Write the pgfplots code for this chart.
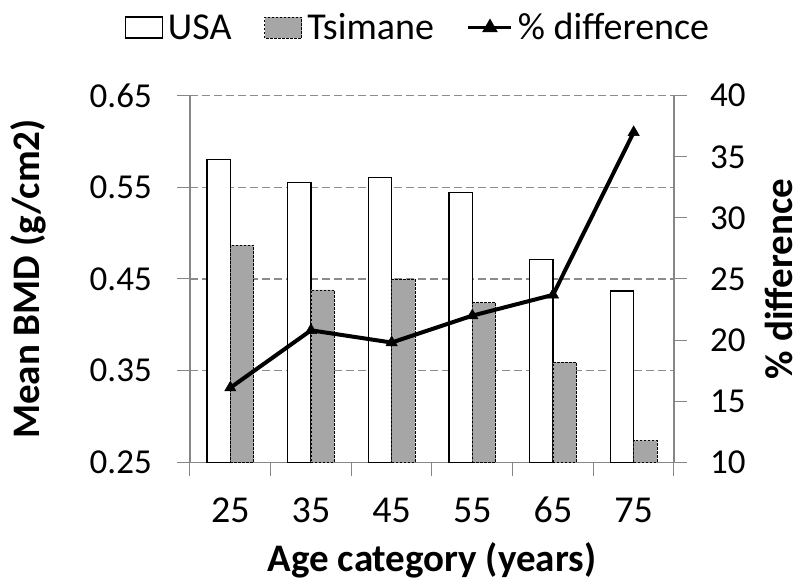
\documentclass[border=0pt]{standalone}
\usepackage{fontspec}
\setmainfont{Carlito}
\usepackage{pgfplots}
\pgfplotsset{compat=1.18}

\definecolor{barGray}{HTML}{A6A6A6}
\definecolor{axGray}{HTML}{868686}
\definecolor{gridGray}{HTML}{8C8C8C}

\begin{document}
\begin{tikzpicture}
\path[use as bounding box] (0,0) rectangle (807pt,588pt);

\pgfplotsset{
  common/.style={
    at={(190pt,125.7pt)}, anchor=south west,
    scale only axis, width=484pt, height=366.6pt,
    xmin=-0.5, xmax=5.5,
    tick align=outside, major tick length=13pt, minor tick length=14pt,
    every tick/.style={axGray, line width=1pt},
    axis line style={axGray, line width=1.2pt},
    /pgf/number format/assume math mode=true,
  }
}

\begin{axis}[common,
  axis x line*=bottom, axis y line*=left,
  ymin=0.25, ymax=0.65,
  ytick={0.25,0.35,0.45,0.55,0.65},
  yticklabel style={font=\fontsize{35}{40}\selectfont, anchor=east, inner sep=0pt, xshift=-25pt,
    /pgf/number format/.cd, fixed, fixed zerofill, precision=2},
  xtick={0,1,2,3,4,5},
  xticklabels={25,35,45,55,65,75},
  major x tick style={draw=none},
  minor xtick={-0.5,0.5,1.5,2.5,3.5,4.5,5.5},
  xticklabel style={font=\fontsize{38}{44}\selectfont, anchor=base, inner sep=0pt, yshift=-47.7pt},
  ymajorgrids,
  y grid style={gridGray, line width=1.1pt, dash pattern=on 8pt off 4pt},
  ylabel={Mean BMD (g/cm2)},
  every axis y label/.style={at={(axis description cs:-0.333,0.5)}, rotate=90, anchor=center,
    font=\fontsize{39}{44}\selectfont\bfseries},
  xlabel={Age category (years)},
  every axis x label/.style={at={(axis description cs:0.5,-0.299)}, anchor=base,
    font=\fontsize{39}{44}\selectfont\bfseries},
  legend columns=3,
  legend style={at={(axis description cs:0.471,1.186)}, anchor=center,
    draw=none, fill=none, inner sep=0pt,
    font=\fontsize{38}{44}\selectfont,
    /tikz/every odd column/.append style={column sep=3pt},
    /tikz/every even column/.append style={column sep=31pt}},
]
\addplot[ybar, bar width=0.29, bar shift=-0.145, fill=white, draw=black, line width=1.2pt,
  legend image code/.code={\draw[fill=white, draw=black, line width=1.2pt] (0pt,-10.5pt) rectangle (37pt,10.5pt);}]
coordinates {(0,0.580) (1,0.555) (2,0.561) (3,0.544) (4,0.471) (5,0.437)};
\addplot[ybar, bar width=0.29, bar shift=0.145, fill=barGray, draw=black, line width=0.8pt,
  dash pattern=on 2.5pt off 1.5pt,
  legend image code/.code={\draw[fill=barGray, draw=black, line width=0.8pt, dash pattern=on 2.5pt off 1.5pt] (0pt,-10.5pt) rectangle (37pt,10.5pt);}]
coordinates {(0,0.487) (1,0.438) (2,0.450) (3,0.424) (4,0.359) (5,0.274)};
\addlegendimage{black, line width=3pt,
  legend image code/.code={\draw[black, line width=3pt] (0pt,0pt) -- (43pt,0pt);
    \fill[black] (21.5pt,0pt) +(90:6pt) -- +(210:6pt) -- +(330:6pt) -- cycle;}}
\legend{USA, Tsimane, \% difference}
\end{axis}

\begin{axis}[common,
  axis x line=none, axis y line*=right,
  ymin=10, ymax=40,
  ytick={10,15,20,25,30,35,40},
  yticklabel style={font=\fontsize{35}{40}\selectfont, anchor=west, inner sep=0pt, xshift=23pt},
  ylabel={\% difference},
  every axis y label/.style={at={(axis description cs:1.217,0.5)}, rotate=90, anchor=center,
    font=\fontsize{39}{44}\selectfont\bfseries},
]
\addplot[black, line width=4pt, mark=triangle*, mark size=6.5pt,
  mark options={line width=0.5pt}]
coordinates {(0,16.1) (1,20.8) (2,19.8) (3,22.0) (4,23.7) (5,37.0)};
\end{axis}
\end{tikzpicture}
\end{document}
